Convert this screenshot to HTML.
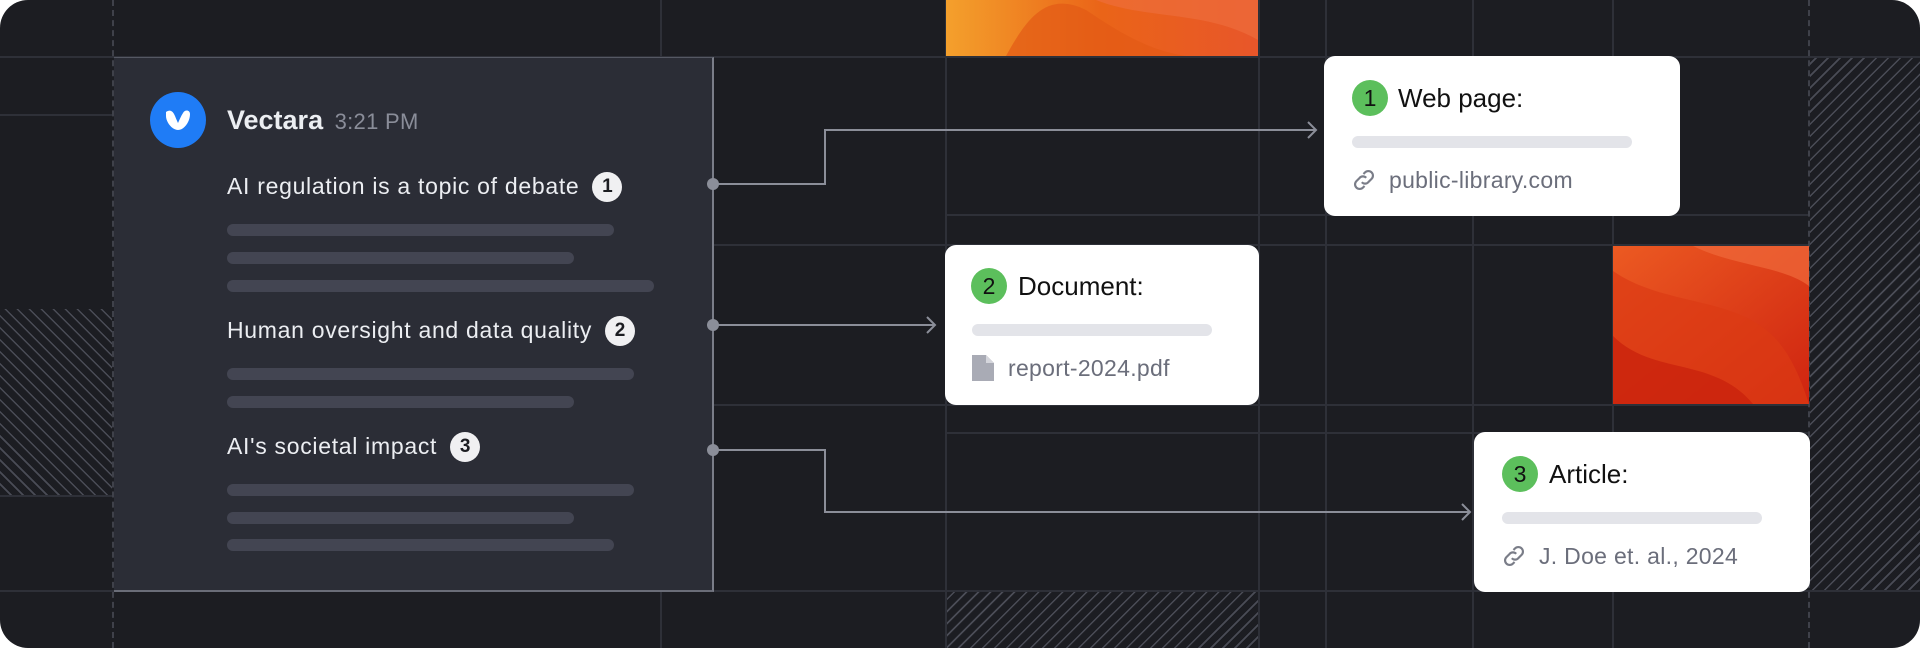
<!DOCTYPE html>
<html><head><meta charset="utf-8"><style>
*{margin:0;padding:0;box-sizing:border-box}
body{width:1920px;height:648px;background:#fff;overflow:hidden;font-family:"Liberation Sans",sans-serif}
#f{position:absolute;left:0;top:0;width:1920px;height:648px;background:#1c1d22;border-radius:28px;overflow:hidden}
.a{position:absolute}
.h{position:absolute;height:2px;background:#2e3038}
.v{position:absolute;width:2px;background:#2e3038}
.dv{position:absolute;width:0;border-left:2px dashed #3f414a}
.hatchL{background:repeating-linear-gradient(45deg,#1c1d22 0 7px,#4a4c56 7px 8.5px)}
.hatchR{background:repeating-linear-gradient(-45deg,#1c1d22 0 7px,#4a4c56 7px 8.5px)}
.bar{position:absolute;height:12px;border-radius:6px;background:#434552}
.t{position:absolute;color:#eceef2;font-size:23px;letter-spacing:0.7px;line-height:28px;white-space:nowrap}
.nb{display:inline-block;width:30px;height:30px;border-radius:50%;background:#f0f0f2;color:#1c1d22;font-weight:bold;font-size:19px;line-height:30px;text-align:center;margin-left:13px;vertical-align:middle;position:relative;top:-1px;letter-spacing:0}
.card{position:absolute;background:#fff;border-radius:11px}
.gb{position:absolute;width:36px;height:36px;border-radius:50%;background:#5cbf5c;color:#111;font-size:23px;line-height:36px;text-align:center}
.ct{position:absolute;font-size:26px;color:#111;line-height:30px;white-space:nowrap}
.cb{position:absolute;height:12px;border-radius:6px;background:#e3e4e9}
.cl{position:absolute;font-size:23px;letter-spacing:0.3px;color:#6b6e7b;line-height:26px;white-space:nowrap}
</style></head><body><div id="f">
<div class="h" style="left:0;top:56px;width:1920px"></div>
<div class="h" style="left:0;top:114px;width:114px"></div>
<div class="h" style="left:0;top:495px;width:114px"></div>
<div class="h" style="left:0;top:590px;width:1920px"></div>
<div class="h" style="left:946px;top:214px;width:864px"></div>
<div class="h" style="left:713px;top:244px;width:1207px"></div>
<div class="h" style="left:713px;top:404px;width:1097px"></div>
<div class="h" style="left:946px;top:432px;width:864px"></div>
<div class="v" style="left:660px;top:0;height:648px"></div>
<div class="v" style="left:945px;top:0;height:648px"></div>
<div class="v" style="left:1258px;top:0;height:648px"></div>
<div class="v" style="left:1325px;top:0;height:648px"></div>
<div class="v" style="left:1472px;top:0;height:648px"></div>
<div class="v" style="left:1612px;top:0;height:648px"></div>
<div class="dv" style="left:112px;top:0;height:648px"></div>
<div class="dv" style="left:1808px;top:0;height:648px"></div>
<div class="a hatchL" style="left:0;top:309px;width:112px;height:186px"></div>
<div class="a hatchR" style="left:1810px;top:58px;width:110px;height:532px"></div>
<div class="a hatchR" style="left:947px;top:592px;width:311px;height:56px"></div>
<svg class="a" style="left:946px;top:0" width="312" height="56" viewBox="0 0 312 56">
<defs><linearGradient id="g1" x1="0" y1="0" x2="1" y2="0"><stop offset="0" stop-color="#f4a02c"/><stop offset=".5" stop-color="#ea6418"/><stop offset="1" stop-color="#e8562a"/></linearGradient></defs>
<rect width="312" height="56" fill="url(#g1)"/>
<path d="M60 56 C80 20 100 -10 140 10 C170 30 200 50 240 56Z" fill="#e25a16" opacity=".7"/>
<path d="M150 0 C200 20 260 10 312 40 L312 0Z" fill="#ee7040" opacity=".6"/>
</svg>
<svg class="a" style="left:1613px;top:246px" width="196" height="158" viewBox="0 0 196 158">
<defs><linearGradient id="g2" x1="0" y1="0" x2="1" y2="1"><stop offset="0" stop-color="#ec5a22"/><stop offset="1" stop-color="#cf2410"/></linearGradient></defs>
<rect width="196" height="158" fill="url(#g2)"/>
<path d="M0 25 C50 60 120 50 160 90 C180 110 190 140 196 158 L0 158Z" fill="#dc3a14" opacity=".7"/>
<path d="M0 90 C40 130 100 110 140 158 L0 158Z" fill="#c8200c" opacity=".7"/>
<path d="M80 0 C120 20 170 20 196 40 L196 0Z" fill="#ef6a3a" opacity=".7"/>
</svg>
<div class="a" style="left:114px;top:57px;width:600px;height:535px;background:#2b2d36;border-top:1px solid #555863;border-right:2px solid #7a7d88;border-bottom:2px solid #6a6d78"></div>
<div class="a" style="left:150px;top:92px;width:56px;height:56px;border-radius:50%;background:#1f7cf6"></div>
<svg class="a" style="left:150px;top:92px" width="56" height="56" viewBox="0 0 56 56"><path d="M16 20 C20 17 23 19 25 24 C27 29 28 31 28 31 C29 29 31 24 33 21 C35 17 40 18 40 22 C40 30 34 38 28 38 C22 38 16 30 16 24Z" fill="#fff"/></svg>
<div class="t" style="left:227px;top:105px;font-size:27px;font-weight:bold;line-height:30px;letter-spacing:0">Vectara <span style="font-weight:normal;font-size:22px;color:#8a8d99;margin-left:4px;letter-spacing:0.3px">3:21 PM</span></div>
<div class="t" style="left:227px;top:172px">AI regulation is a topic of debate<span class="nb">1</span></div>
<div class="bar" style="left:227px;top:224px;width:387px"></div>
<div class="bar" style="left:227px;top:252px;width:347px"></div>
<div class="bar" style="left:227px;top:280px;width:427px"></div>
<div class="t" style="left:227px;top:316px">Human oversight and data quality<span class="nb">2</span></div>
<div class="bar" style="left:227px;top:368px;width:407px"></div>
<div class="bar" style="left:227px;top:396px;width:347px"></div>
<div class="t" style="left:227px;top:432px">AI's societal impact<span class="nb">3</span></div>
<div class="bar" style="left:227px;top:484px;width:407px"></div>
<div class="bar" style="left:227px;top:512px;width:347px"></div>
<div class="bar" style="left:227px;top:539px;width:387px"></div>
<svg class="a" style="left:0;top:0" width="1920" height="648">
<g fill="none" stroke="#8b8e99" stroke-width="2">
<path d="M713 184 H825 V130 H1316"/><path d="M1308 122 L1316 130 L1308 138"/>
<path d="M713 325 H935"/><path d="M927 317 L935 325 L927 333"/>
<path d="M713 450 H825 V512 H1470"/><path d="M1462 504 L1470 512 L1462 520"/>
</g>
<g fill="#8b8e99"><circle cx="713" cy="184" r="6"/><circle cx="713" cy="325" r="6"/><circle cx="713" cy="450" r="6"/></g>
</svg>
<div class="card" style="left:1324px;top:56px;width:356px;height:160px">
<div class="gb" style="left:28px;top:24px">1</div>
<div class="ct" style="left:74px;top:27px">Web page:</div>
<div class="cb" style="left:28px;top:80px;width:280px"></div>
<svg class="a" style="left:27px;top:111px" width="26" height="26" viewBox="0 0 24 24" fill="none" stroke="#7a7d88" stroke-width="2"><path d="M10 14 a4 4 0 0 0 6 0 l3-3 a4 4 0 0 0 -6-6 l-1.5 1.5"/><path d="M14 10 a4 4 0 0 0 -6 0 l-3 3 a4 4 0 0 0 6 6 l1.5-1.5"/></svg>
<div class="cl" style="left:65px;top:111px">public-library.com</div>
</div>
<div class="card" style="left:945px;top:245px;width:314px;height:160px">
<div class="gb" style="left:26px;top:23px">2</div>
<div class="ct" style="left:73px;top:26px">Document:</div>
<div class="cb" style="left:27px;top:79px;width:240px"></div>
<svg class="a" style="left:27px;top:110px" width="22" height="26" viewBox="0 0 22 26"><path d="M0 0 H14 L22 8 V26 H0Z" fill="#a9abb5"/><path d="M14 0 V8 H22Z" fill="#d5d6dc"/></svg>
<div class="cl" style="left:63px;top:110px">report-2024.pdf</div>
</div>
<div class="card" style="left:1474px;top:432px;width:336px;height:160px">
<div class="gb" style="left:28px;top:24px">3</div>
<div class="ct" style="left:75px;top:27px">Article:</div>
<div class="cb" style="left:28px;top:80px;width:260px"></div>
<svg class="a" style="left:27px;top:111px" width="26" height="26" viewBox="0 0 24 24" fill="none" stroke="#7a7d88" stroke-width="2"><path d="M10 14 a4 4 0 0 0 6 0 l3-3 a4 4 0 0 0 -6-6 l-1.5 1.5"/><path d="M14 10 a4 4 0 0 0 -6 0 l-3 3 a4 4 0 0 0 6 6 l1.5-1.5"/></svg>
<div class="cl" style="left:65px;top:111px">J. Doe et. al., 2024</div>
</div>
</div></body></html>
